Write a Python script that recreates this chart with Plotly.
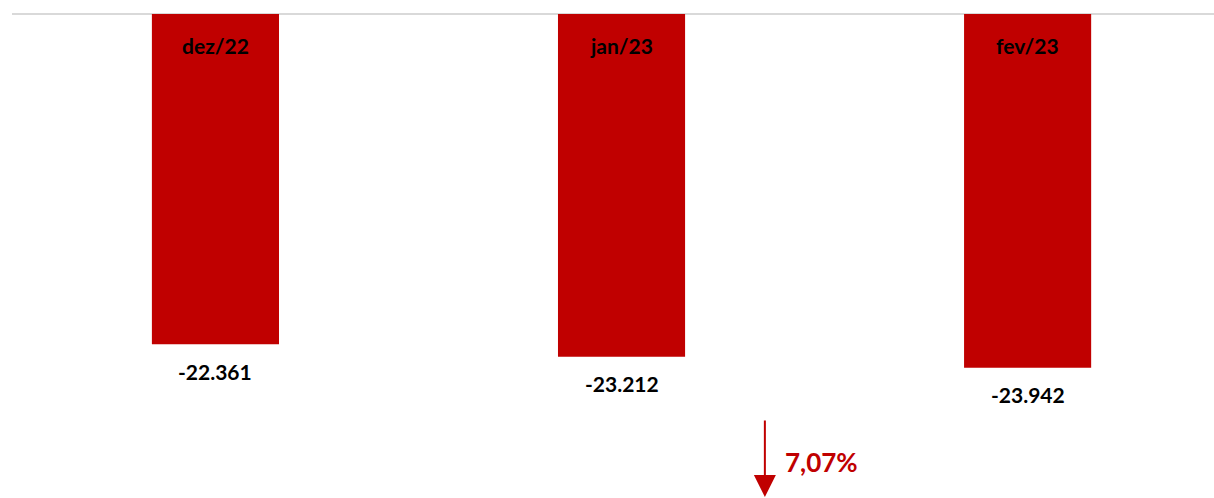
import plotly.graph_objects as go

categories = ["dez/22", "jan/23", "fev/23"]
values = [-22361, -23212, -23942]
value_labels = ["-22.361", "-23.212", "-23.942"]
change_label = "7,07%"

RED = "#c00000"
FONT = "Lato"

x = list(range(len(categories)))

fig = go.Figure()
fig.add_trace(go.Bar(
    x=x, y=values, width=0.313,
    marker=dict(color=RED, line=dict(width=0)),
    hoverinfo="skip",
))

# category labels inside bars at top
for xi, c in zip(x, categories):
    fig.add_annotation(x=xi, y=0, xref="x", yref="y", text=f"<b>{c}</b>",
                       showarrow=False, yanchor="middle", yshift=-31,
                       font=dict(family=FONT, size=21, color="black"))

# value labels below bars
for xi, v, t in zip(x, values, value_labels):
    fig.add_annotation(x=xi, y=v, xref="x", yref="y", text=f"<b>{t}</b>",
                       showarrow=False, yanchor="middle", yshift=-27,
                       font=dict(family=FONT, size=21, color="black"))

# change arrow
fig.add_annotation(x=1.353, y=-0.004, xref="x", yref="paper", text="",
                   showarrow=True, ax=0, ay=-81, axref="pixel", ayref="pixel",
                   arrowhead=2, arrowsize=2.2, arrowwidth=2, arrowcolor=RED)
fig.add_annotation(x=1.397, y=0.075, xref="x", yref="paper", text=f"<b>{change_label}</b>",
                   showarrow=False, xanchor="left", yanchor="middle",
                   font=dict(family=FONT, size=26, color=RED))

fig.update_layout(
    width=1214, height=498,
    margin=dict(l=12, r=0, t=14, b=0),
    paper_bgcolor="white", plot_bgcolor="white",
    showlegend=False,
    xaxis=dict(range=[-0.501, 2.459], showgrid=False, zeroline=False,
               showticklabels=False, showline=False, fixedrange=True),
    yaxis=dict(range=[-32767, 0], showgrid=False, zeroline=True,
               zerolinecolor="#d9d9d9", zerolinewidth=2,
               showticklabels=False, showline=False, fixedrange=True),
)

fig.write_html("out.html", config={"displayModeBar": False},
               post_script="document.body.style.margin='0';document.body.style.overflow='hidden';")
